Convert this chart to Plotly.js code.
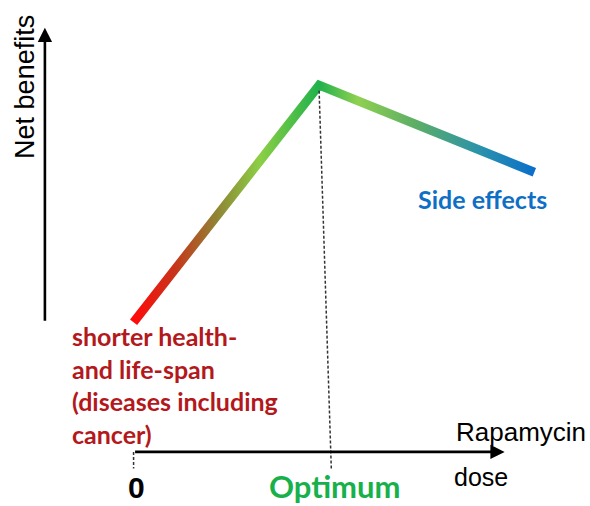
<!DOCTYPE html>
<html>
<head>
<meta charset="utf-8">
<script src="https://cdn.plot.ly/plotly-3.0.1.min.js"></script>
<style>html,body{margin:0;padding:0;background:#fff;}</style>
</head>
<body>
<div id="chart" style="width:590px;height:506px;"></div>
<script>
// Schematic data: Rapamycin dose vs net benefits
const dose = [0, 5, 10.8];
const netBenefit = [3.5, 9.9, 7.55];
const pointLabels = ["shorter health-<br>and life-span<br>(diseases including<br>cancer)", "Optimum", "Side effects"];
const xAxisLabels = ["Rapamycin", "dose"];
const yAxisLabel = "Net benefits";
const originLabel = "0";

const lowColor = "#b3191c", optColor = "#17b04b", sideColor = "#0e6fc4";

const trace = {
  x: dose, y: netBenefit, type: "scatter", mode: "lines",
  line: {color: "#21b24c", width: 9, shape: "linear"},
  hoverinfo: "skip", showlegend: false
};

const xMax = 10;      // arrow tip of dose axis
const yAxisX = -2.39; // position of the net-benefit axis
const yTop = 11.45;

const layout = {
  width: 590, height: 506,
  margin: {l: 0, r: 0, t: 0, b: 0},
  paper_bgcolor: "#fff", plot_bgcolor: "#fff",
  showlegend: false,
  xaxis: {range: [-3.6, 12.3], visible: false, fixedrange: true},
  yaxis: {range: [-1.46, 12.2], visible: false, fixedrange: true},
  shapes: [
    {type: "line", xref: "x", yref: "y", x0: dose[1], y0: netBenefit[1] - 0.15, x1: dose[1] + 0.33, y1: -0.5,
     line: {color: "#333", width: 1.5, dash: "3px,2px"}},
    {type: "line", xref: "x", yref: "y", x0: dose[0], y0: 0, x1: dose[0], y1: -0.45,
     line: {color: "#333", width: 1.5, dash: "3px,2px"}}
  ],
  annotations: [
    // dose axis arrow
    {x: xMax, y: 0, ax: dose[0], ay: 0, xref: "x", yref: "y", axref: "x", ayref: "y",
     showarrow: true, arrowhead: 2, arrowsize: 1.1, arrowwidth: 2.6, arrowcolor: "#000", text: ""},
    // net benefit axis arrow
    {x: yAxisX, y: yTop, ax: yAxisX, ay: netBenefit[0], xref: "x", yref: "y", axref: "x", ayref: "y",
     showarrow: true, arrowhead: 2, arrowsize: 1.1, arrowwidth: 2.6, arrowcolor: "#000", text: ""},
    {x: -2.93, y: 9.85, xref: "x", yref: "y", text: yAxisLabel, textangle: -90, showarrow: false,
     font: {family: "Liberation Sans, Arial", size: 27, color: "#000"}},
    {x: 10.45, y: 0.55, xref: "x", yref: "y", text: xAxisLabels[0], showarrow: false,
     font: {family: "Liberation Sans, Arial", size: 26, color: "#000"}},
    {x: 9.36, y: -0.68, xref: "x", yref: "y", text: xAxisLabels[1], showarrow: false,
     font: {family: "Liberation Sans, Arial", size: 25, color: "#000"}},
    {x: 0.07, y: -0.95, xref: "x", yref: "y", text: "<b>" + originLabel + "</b>", showarrow: false,
     font: {family: "Liberation Sans, Arial", size: 30, color: "#000"}},
    {x: -1.71, y: 3.6, xref: "x", yref: "y", xanchor: "left", yanchor: "top", align: "left",
     text: "<b>" + pointLabels[0] + "</b>", showarrow: false,
     font: {family: "Lato", size: 25, color: lowColor}},
    {x: 5.43, y: -0.92, xref: "x", yref: "y", text: "<b>" + pointLabels[1] + "</b>", showarrow: false,
     font: {family: "Lato", size: 31, color: optColor}},
    {x: 9.39, y: 6.83, xref: "x", yref: "y", text: "<b>" + pointLabels[2] + "</b>", showarrow: false,
     font: {family: "Lato", size: 25, color: sideColor}}
  ]
};

Plotly.newPlot("chart", [trace], layout, {staticPlot: true, displayModeBar: false}).then(function () {
  const svg = document.querySelector("#chart .main-svg");
  const ns = "http://www.w3.org/2000/svg";
  let defs = svg.querySelector("defs");
  if (!defs) { defs = document.createElementNS(ns, "defs"); svg.insertBefore(defs, svg.firstChild); }
  const g = document.createElementNS(ns, "linearGradient");
  g.setAttribute("id", "doseGrad");
  g.setAttribute("x1", "0"); g.setAttribute("y1", "0");
  g.setAttribute("x2", "1"); g.setAttribute("y2", "0");
  const pk = (dose[1] - dose[0]) / (dose[2] - dose[0]);
  const stops = [
    [0, "#ff0a0a"], [pk * 0.22, "#c8341a"], [pk * 0.45, "#8f8534"], [pk * 0.68, "#8ccf45"],
    [pk, "#1fb24b"], [pk + (1 - pk) * 0.18, "#8fd050"], [pk + (1 - pk) * 0.45, "#5cae66"],
    [pk + (1 - pk) * 0.75, "#2a92ac"], [1, "#0b6fc9"]
  ];
  stops.forEach(function (s) {
    const st = document.createElementNS(ns, "stop");
    st.setAttribute("offset", s[0]);
    st.setAttribute("stop-color", s[1]);
    g.appendChild(st);
  });
  defs.appendChild(g);
  document.querySelectorAll("#chart .scatterlayer .trace path.js-line").forEach(function (p) {
    p.style.stroke = "url(#doseGrad)";
    p.style.strokeLinejoin = "miter";
    p.style.strokeLinecap = "butt";
  });
});
</script>
</body>
</html>
